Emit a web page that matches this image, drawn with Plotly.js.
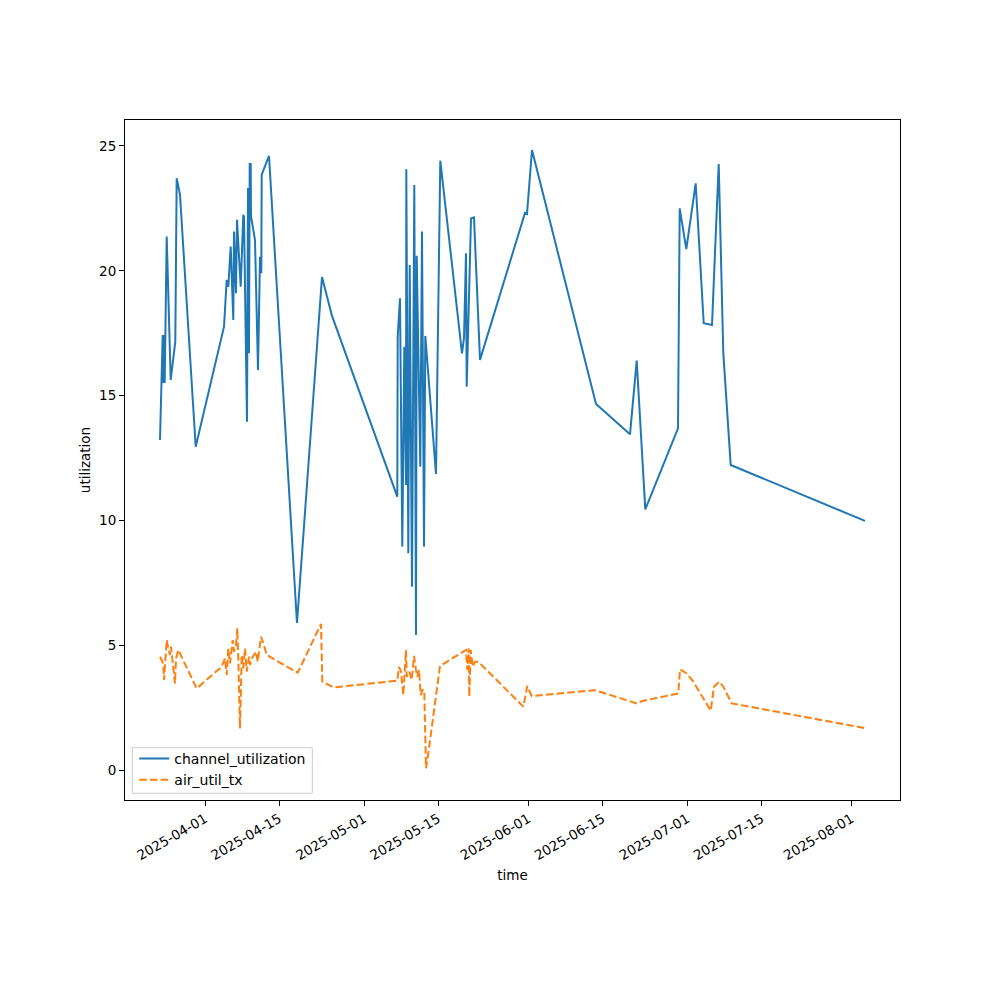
<!DOCTYPE html>
<html>
<head>
<meta charset="utf-8">
<script src="https://cdn.plot.ly/plotly-3.0.1.min.js"></script>
<style>html,body{margin:0;padding:0;background:#fff;}#chart{width:1000px;height:1000px;}</style>
</head>
<body>
<div id="chart"></div>
<script>
const chanTime = [
"2025-03-23 12:13","2025-03-24 00:27","2025-03-24 03:10","2025-03-24 06:20","2025-03-24 09:30",
"2025-03-24 18:34","2025-03-25 12:40","2025-03-26 09:30","2025-03-26 15:50","2025-03-27 06:48",
"2025-03-30 05:53","2025-04-04 14:02","2025-04-05 02:16","2025-04-05 09:30","2025-04-05 20:22",
"2025-04-06 08:10","2025-04-06 11:20","2025-04-06 20:22","2025-04-07 00:55","2025-04-07 17:40",
"2025-04-08 05:25","2025-04-08 08:35","2025-04-08 22:12","2025-04-09 02:43","2025-04-09 07:15",
"2025-04-09 10:25","2025-04-09 14:57","2025-04-09 16:18","2025-04-10 10:25","2025-04-11 00:00",
"2025-04-11 09:03","2025-04-11 14:57","2025-04-11 16:45","2025-04-13 01:48","2025-04-18 08:35",
"2025-04-23 01:48","2025-04-24 23:05","2025-05-07 06:47","2025-05-07 08:35","2025-05-07 19:00",
"2025-05-08 05:25","2025-05-08 14:30","2025-05-08 22:12","2025-05-08 23:33","2025-05-09 08:35",
"2025-05-09 14:57","2025-05-10 01:22","2025-05-10 11:47","2025-05-10 19:28","2025-05-10 22:38",
"2025-05-11 14:57","2025-05-11 22:38","2025-05-12 07:42","2025-05-12 13:35","2025-05-14 14:02",
"2025-05-15 09:30","2025-05-19 11:47","2025-05-19 20:50","2025-05-20 05:53","2025-05-20 09:03",
"2025-05-21 04:32","2025-05-21 18:07","2025-05-22 21:17","2025-05-31 09:03","2025-05-31 18:07",
"2025-06-01 16:45","2025-06-13 18:35","2025-06-20 04:32","2025-06-21 10:52","2025-06-23 01:48",
"2025-06-29 05:53","2025-06-29 13:35","2025-06-30 19:28","2025-07-02 14:02","2025-07-04 02:16",
"2025-07-05 15:50","2025-07-06 22:12","2025-07-07 19:00","2025-07-09 04:32","2025-08-03 12:40"
];
const chanUtil = [
13.22,17.43,15.5,17.43,15.5,
21.37,15.63,17.16,23.71,23.04,
12.95,17.76,19.63,19.36,20.97,
18.03,21.57,19.1,22.04,19.36,
22.24,22.16,13.95,23.32,16.7,
24.28,24.28,22.2,21.23,16.03,
20.56,19.9,23.85,24.6,5.89,
19.75,18.19,10.95,17.36,18.9,
8.95,16.96,11.42,24.07,8.68,
20.23,7.34,23.44,5.41,20.6,
12.15,21.57,8.95,17.39,11.86,
24.41,16.69,17.31,20.7,15.36,
22.1,22.14,16.43,22.32,22.28,
24.84,14.66,13.45,16.4,10.44,
13.69,22.5,20.87,23.5,17.9,
17.83,24.28,16.7,12.22,9.98
];
const airTime = [
"2025-03-23 12:13","2025-03-24 03:10","2025-03-24 06:20","2025-03-24 10:52","2025-03-24 18:34",
"2025-03-25 01:48","2025-03-25 09:30","2025-03-25 14:02","2025-03-25 21:45","2025-03-26 08:10",
"2025-03-26 12:40","2025-03-26 23:05","2025-03-30 10:25","2025-04-04 03:37","2025-04-04 18:35",
"2025-04-05 02:16","2025-04-05 09:30","2025-04-05 17:12","2025-04-06 05:25","2025-04-06 11:20",
"2025-04-06 20:22","2025-04-07 02:16","2025-04-07 06:47","2025-04-07 14:30","2025-04-07 22:12",
"2025-04-08 05:25","2025-04-08 13:08","2025-04-08 20:50","2025-04-09 07:15","2025-04-09 11:47",
"2025-04-09 19:28","2025-04-10 14:57","2025-04-10 22:38","2025-04-11 13:35","2025-04-12 00:00",
"2025-04-12 15:24","2025-04-14 19:55","2025-04-18 11:47","2025-04-22 21:17","2025-04-23 03:10",
"2025-04-25 04:59","2025-05-07 06:47","2025-05-07 14:30","2025-05-07 23:33","2025-05-08 09:57",
"2025-05-08 14:30","2025-05-08 22:12","2025-05-09 01:22","2025-05-09 13:08","2025-05-10 00:00",
"2025-05-10 10:25","2025-05-10 19:28","2025-05-11 01:22","2025-05-11 09:03","2025-05-11 16:45",
"2025-05-12 01:48","2025-05-12 09:03","2025-05-12 16:45","2025-05-13 03:10","2025-05-15 08:10",
"2025-05-20 05:53","2025-05-20 11:47","2025-05-20 18:07","2025-05-20 20:50","2025-05-21 03:10",
"2025-05-21 12:13","2025-05-21 22:38","2025-05-22 13:35","2025-05-31 01:22","2025-05-31 19:28",
"2025-06-01 15:24","2025-06-13 14:02","2025-06-21 10:52","2025-06-22 09:30","2025-06-29 07:15",
"2025-06-29 14:57","2025-06-30 21:17","2025-07-02 03:10","2025-07-05 09:57","2025-07-06 00:55",
"2025-07-07 00:55","2025-07-07 19:00","2025-07-09 09:03","2025-08-03 12:40"
];
const airUtilTx = [
4.54,4.27,3.61,4.34,5.21,
4.88,4.61,4.94,4.34,3.47,
4.47,4.81,3.27,4.14,4.47,
3.81,4.87,4.27,5.21,4.74,
5.01,5.68,4.47,1.67,4.61,
4.07,4.87,3.94,4.54,4.21,
4.47,4.74,4.34,5.34,5.08,
4.61,4.34,3.9,5.85,3.54,
3.31,3.58,4.13,3.94,3.0,
3.69,4.81,3.74,3.94,3.61,
4.57,4.01,3.74,4.01,3.0,
3.23,3.14,0.07,0.67,4.17,
4.81,4.01,4.87,2.94,4.81,
4.14,4.34,4.34,2.54,3.37,
2.96,3.2,2.67,2.76,3.07,
4.03,3.87,3.54,2.38,3.34,
3.54,3.34,2.67,1.68
];
const xTickVals = ["2025-04-01","2025-04-15","2025-05-01","2025-05-15","2025-06-01","2025-06-15","2025-07-01","2025-07-15","2025-08-01"];
const xTickText = ["2025-04-01","2025-04-15","2025-05-01","2025-05-15","2025-06-01","2025-06-15","2025-07-01","2025-07-15","2025-08-01"];
const yTickVals = [0,5,10,15,20,25];

const traces = [
  {x: chanTime, y: chanUtil, type: 'scatter', mode: 'lines', name: 'channel_utilization',
   line: {color: '#1f77b4', width: 2}},
  {x: airTime, y: airUtilTx, type: 'scatter', mode: 'lines', name: 'air_util_tx',
   line: {color: '#ff7f0e', width: 2, dash: '7.5px,3.2px'}}
];
const font = {family: 'DejaVu Sans, sans-serif', size: 13.5, color: '#000'};
const layout = {
  width: 1000, height: 1000,
  margin: {l: 125, r: 100, t: 120, b: 200},
  paper_bgcolor: '#fff', plot_bgcolor: '#fff',
  font: font,
  showlegend: true,
  legend: {x: 0.012, y: 0.006, xanchor: 'left', yanchor: 'bottom',
           bgcolor: 'rgba(0,0,0,0)', borderwidth: 0,
           font: {family: 'DejaVu Sans, sans-serif', size: 14, color: '#000'},
           tracegroupgap: 0, itemwidth: 30},
  shapes: [
    {type: 'rect', xref: 'paper', yref: 'paper', x0: 0.0094, x1: 0.2417, y0: 0.00985, y1: 0.0769,
     line: {color: '#cccccc', width: 1}, fillcolor: 'rgba(255,255,255,0.8)', layer: 'above'}
  ],
  xaxis: {
    type: 'date', range: ['2025-03-16 21:45', '2025-08-10 03:08'],
    tickvals: xTickVals, ticktext: xTickText, tickangle: -30,
    ticks: 'outside', ticklen: 5, tickwidth: 1, tickcolor: '#000',
    showgrid: false, zeroline: false, showline: true, linecolor: '#000', linewidth: 1, mirror: true,
    title: {text: 'time', font: font, standoff: 8}
  },
  yaxis: {
    range: [-1.2, 26.04], tickvals: yTickVals,
    ticks: 'outside', ticklen: 5, tickwidth: 1, tickcolor: '#000',
    showgrid: false, zeroline: false, showline: true, linecolor: '#000', linewidth: 1, mirror: true,
    title: {text: 'utilization', font: font, standoff: 5}
  }
};
Plotly.newPlot('chart', traces, layout, {displayModeBar: false, staticPlot: true});
</script>
</body>
</html>
